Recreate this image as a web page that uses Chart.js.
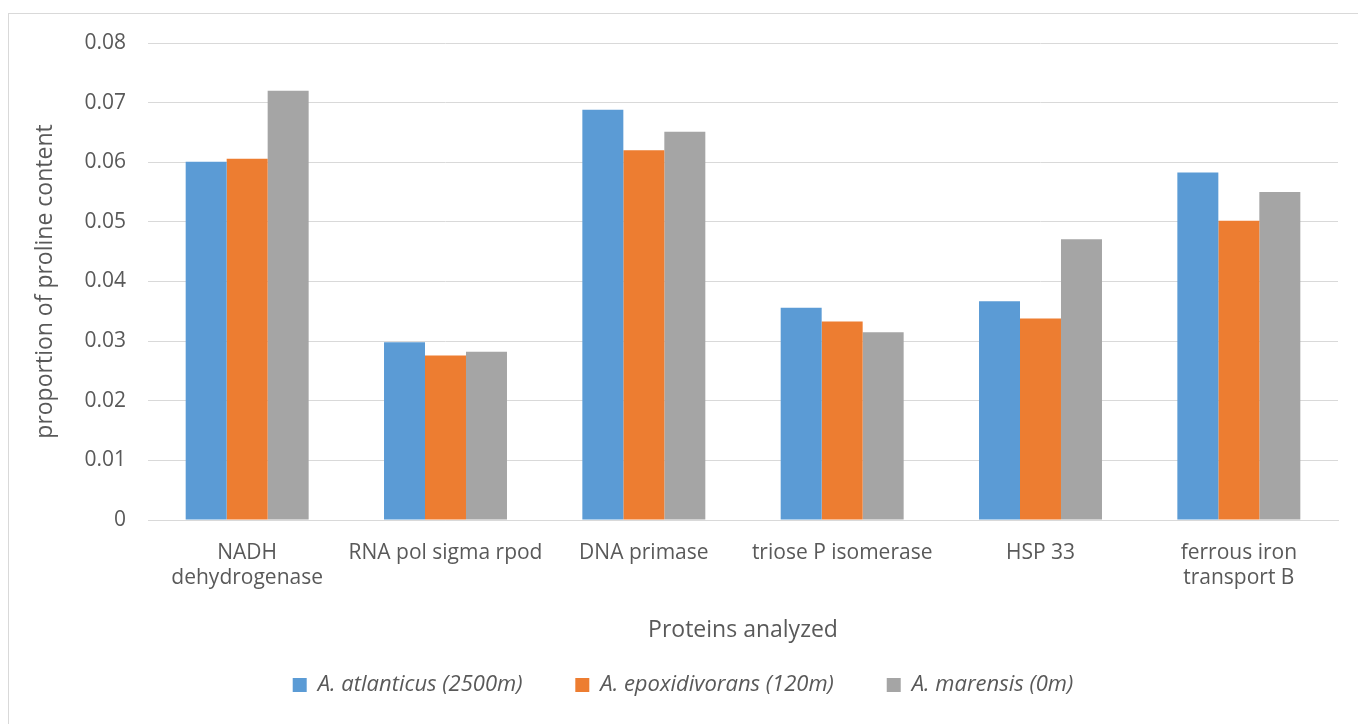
<!DOCTYPE html>
<html>
<head>
<meta charset="utf-8">
<script src="https://cdn.jsdelivr.net/npm/chart.js@4/dist/chart.umd.min.js"></script>
<style>
  html, body { margin: 0; padding: 0; background: #fff; }
  #wrap { position: relative; width: 1358px; height: 724px; overflow: hidden; }
  #frame { position: absolute; left: 8px; top: 13px; width: 1400px; height: 800px; border: 1px solid #d9d9d9; }
  canvas { position: absolute; left: 0; top: 0; }
</style>
</head>
<body>
<div id="wrap">
  <div id="frame"></div>
  <canvas id="myChart" width="1358" height="724"></canvas>
</div>
<script>
var proteins = [["NADH", "dehydrogenase"], "RNA pol sigma rpod", "DNA primase", "triose P isomerase", "HSP 33", ["ferrous iron", "transport B"]];
var atlanticus = [0.0601, 0.0298, 0.0688, 0.0356, 0.0367, 0.0583];
var epoxidivorans = [0.0606, 0.0276, 0.0620, 0.0333, 0.0338, 0.0502];
var marensis = [0.0720, 0.0282, 0.0651, 0.0315, 0.0471, 0.0550];
var seriesNames = ["A. atlanticus (2500m)", "A. epoxidivorans (120m)", "A. marensis (0m)"];
var barColors = ["#5b9bd5", "#ed7d31", "#a5a5a5"];

var textColor = "#595959";
var font = "'Open Sans', 'Liberation Sans', sans-serif";

new Chart("myChart", {
  type: "bar",
  data: {
    labels: proteins,
    datasets: [
      { label: seriesNames[0], data: atlanticus, backgroundColor: barColors[0] },
      { label: seriesNames[1], data: epoxidivorans, backgroundColor: barColors[1] },
      { label: seriesNames[2], data: marensis, backgroundColor: barColors[2] }
    ]
  },
  options: {
    responsive: false,
    animation: false,
    layout: { padding: { left: 28, right: 20, top: 43, bottom: 18 } },
    datasets: { bar: { categoryPercentage: 0.62, barPercentage: 1.0 } },
    plugins: {
      legend: {
        position: "bottom",
        labels: {
          color: textColor,
          boxWidth: 14,
          boxHeight: 14,
          padding: 30,
          font: { family: font, size: 22, style: "italic" },
          generateLabels: function (chart) {
            var items = Chart.defaults.plugins.legend.labels.generateLabels(chart);
            items.forEach(function (it, i) {
              if (i < items.length - 1) it.text = it.text + "    ";
            });
            return items;
          }
        }
      },
      tooltip: { enabled: false }
    },
    scales: {
      x: {
        afterFit: function (s) { s.height = 124; },
        grid: { display: false, drawTicks: false },
        border: { color: "#d9d9d9", width: 1 },
        ticks: { color: textColor, padding: 20, maxRotation: 0, autoSkip: false, font: { family: font, size: 21 } },
        title: { display: true, text: "Proteins analyzed", color: textColor, padding: { top: 24, bottom: 0 }, font: { family: font, size: 23 } }
      },
      y: {
        min: 0,
        max: 0.08,
        afterFit: function (s) { s.width = 120; },
        grid: { color: "#d9d9d9", drawTicks: false },
        border: { display: false },
        ticks: {
          stepSize: 0.01,
          color: textColor,
          padding: 22,
          font: { family: font, size: 21 },
          callback: function (v) { return v === 0 ? "0" : v.toFixed(2); }
        },
        title: { display: true, text: "proportion of proline content", color: textColor, padding: { bottom: 10 }, font: { family: font, size: 23 } }
      }
    }
  }
});
</script>
</body>
</html>
